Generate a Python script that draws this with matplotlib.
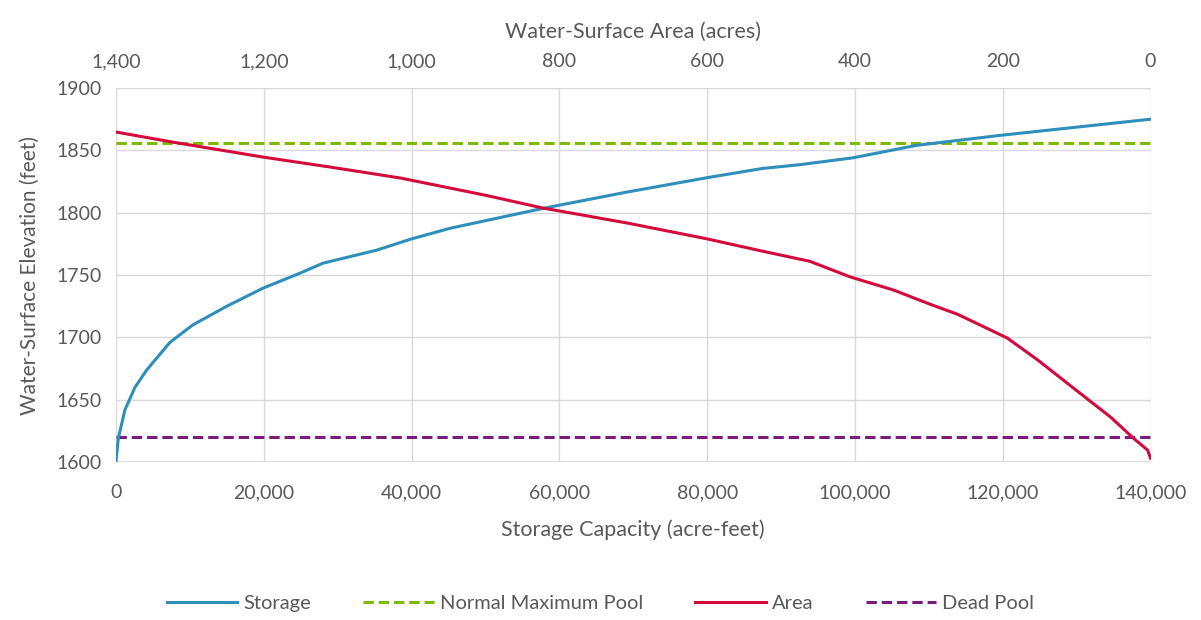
import matplotlib.pyplot as plt
from matplotlib.ticker import FuncFormatter

# storage curve: capacity (acre-feet) vs elevation (feet)
storage_af = [0, 310, 1200, 2570, 4150, 7300, 10400, 15000, 19900, 24900, 28000,
              35300, 40000, 45200, 57800, 69100, 79900, 87500, 92500, 99700,
              108300, 119600, 140000]
storage_elev = [1601, 1619, 1641.7, 1660, 1673.8, 1696, 1710, 1725, 1739.5, 1751.5, 1759.5,
                1770, 1779, 1787.5, 1803.5, 1816.5, 1828, 1835.5, 1838.5, 1844,
                1854, 1862, 1875]

# area curve: water-surface area (acres) vs elevation (feet)
area_ac = [1400, 1323, 1201, 1110, 1015, 900, 822, 708, 600, 528, 461, 406, 348,
           298, 261, 194, 153, 95, 54, 23, 4, 0]
area_elev = [1864.7, 1856.6, 1844.6, 1836.6, 1827.8, 1814, 1803.7, 1791.7, 1779, 1769.5,
             1761, 1748.4, 1738, 1726.5, 1718.5, 1699.5, 1682, 1655, 1636, 1619, 1609.6, 1603]

normal_max_pool = 1856
dead_pool = 1620

bottom_ticks = [0, 20000, 40000, 60000, 80000, 100000, 120000, 140000]
top_ticks = [1400, 1200, 1000, 800, 600, 400, 200, 0]
y_ticks = [1600, 1650, 1700, 1750, 1800, 1850, 1900]

txt = '#595959'
grid = '#D9D9D9'
plt.rcParams['font.family'] = ['Lato', 'DejaVu Sans']

fig = plt.figure(figsize=(12.01, 6.20), dpi=100)
ax = fig.add_axes([0.0966, 0.2548, 0.8614, 0.6032])
ax2 = ax.twiny()

comma = FuncFormatter(lambda v, p: f'{int(v):,}')

ax.set_xlim(0, 140000)
ax.set_ylim(1600, 1900)
ax.set_xticks(bottom_ticks)
ax.set_yticks(y_ticks)
ax.xaxis.set_major_formatter(comma)
ax2.set_xlim(1400, 0)
ax2.set_xticks(top_ticks)
ax2.xaxis.set_major_formatter(comma)

ax.grid(True, color=grid, lw=1)
ax.set_axisbelow(True)
for a in (ax, ax2):
    for s in a.spines.values():
        s.set_visible(False)
    a.tick_params(length=0, colors=txt, labelsize=14)
ax.axhline(1600, color=grid, lw=1.2, zorder=1)
ax.tick_params(axis='x', pad=16)
ax.tick_params(axis='y', pad=10)
ax2.tick_params(axis='x', pad=13)

dash = (0, (3.4, 1.6))
l1, = ax.plot(storage_af, storage_elev, color='#2E8FBA', lw=2.2, label='Storage', zorder=3)
l2 = ax.axhline(normal_max_pool, color='#7CBB00', lw=2.2, ls=dash,
                label='Normal Maximum Pool', zorder=2)
l3, = ax2.plot(area_ac, area_elev, color='#D50A3C', lw=2.2, label='Area', zorder=3)
l4 = ax.axhline(dead_pool, color='#7B1A7F', lw=2.2, ls=dash,
                label='Dead Pool', zorder=2)

ax.set_xlabel('Storage Capacity (acre-feet)', color=txt, fontsize=15.5, labelpad=13)
ax.set_ylabel('Water-Surface Elevation (feet)', color=txt, fontsize=15, labelpad=12)
ax2.set_xlabel('Water-Surface Area (acres)', color=txt, fontsize=15.5, labelpad=11)

fig.legend(handles=[l1, l2, l3, l4], loc='center', bbox_to_anchor=(0.5, 0.026),
           ncol=4, frameon=False, fontsize=14.5, labelcolor=txt,
           handlelength=3.5, handletextpad=0.3, columnspacing=2.6)

fig.savefig('out.png', dpi=100)
